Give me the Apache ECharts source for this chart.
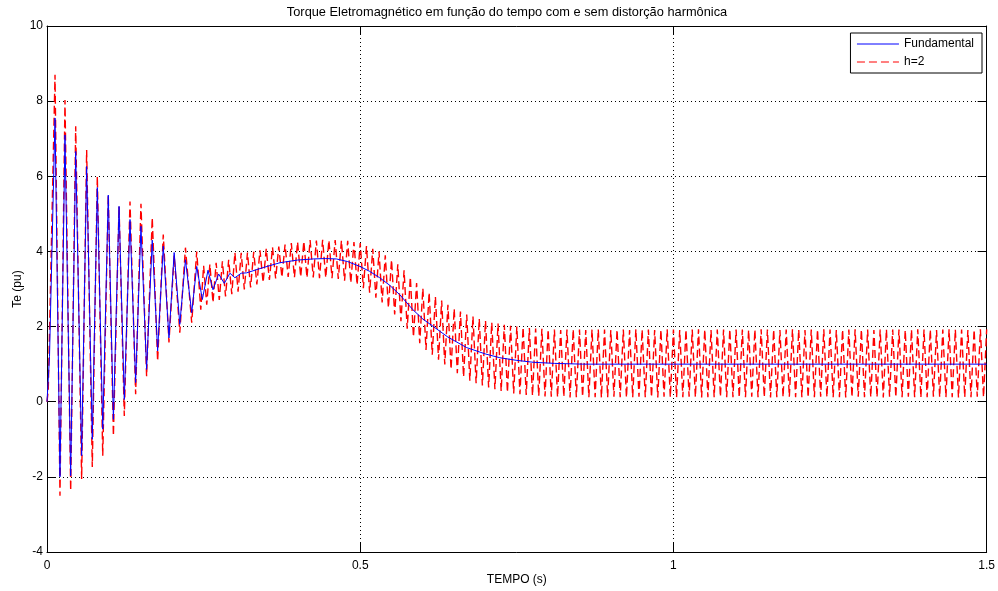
<!DOCTYPE html>
<html>
<head>
<meta charset="utf-8">
<script src="https://cdn.jsdelivr.net/npm/echarts@6/dist/echarts.min.js"></script>
<style>
html,body{margin:0;padding:0;background:#fff;}
#chart{width:998px;height:591px;}
</style>
</head>
<body>
<div id="chart"></div>
<script>
// ---- text ----
const chartTitle = 'Torque Eletromagnético em função do tempo com e sem distorção harmônica';
const xName = 'TEMPO (s)';
const yName = 'Te (pu)';
const seriesNames = ['Fundamental', 'h=2'];

// ---- axes ----
const xMin = 0, xMax = 1.5, xStep = 0.5;
const yMin = -4, yMax = 10, yStep = 2;

// ---- Fundamental: [time s, Te pu] ----
const fundamental = [
  [0,0],[0.004,1.2],[0.0128,7.55],[0.0207,-2.0],[0.0287,7.1],[0.0378,-1.97],
  [0.0458,6.66],[0.0553,-1.44],[0.0633,6.26],[0.0723,-1.0],[0.0803,5.7],[0.089,-0.73],
  [0.0978,5.5],[0.106,-0.47],[0.115,5.2],[0.1234,0.06],[0.1325,4.85],[0.1415,0.51],
  [0.150,4.67],[0.159,0.86],[0.168,4.3],[0.1766,1.35],[0.1856,4.14],[0.1947,1.7],
  [0.203,3.97],[0.212,2.06],[0.221,3.78],[0.231,2.37],[0.239,3.6],[0.248,2.72],
  [0.257,3.5],[0.265,2.98],[0.274,3.4],[0.283,3.15],[0.292,3.42],[0.300,3.3],
  [0.310,3.42],[0.3186,3.43],[0.345,3.57],[0.372,3.7],[0.400,3.77],[0.425,3.8],
  [0.445,3.81],[0.462,3.8],[0.480,3.73],[0.4995,3.6],[0.515,3.47],[0.531,3.3],
  [0.547,3.1],[0.563,2.85],[0.584,2.45],[0.600,2.2],[0.616,2.01],[0.640,1.72],
  [0.670,1.44],[0.700,1.27],[0.723,1.17],[0.750,1.1],[0.776,1.05],[0.810,1.02],
  [0.855,1.0],[0.960,1.0],[1.5,1.0]
];

// ---- h=2: start-up transient extrema [time s, Te pu] ----
const harmonicStart = [
  [0,0],[0.002,0.3],[0.004,0.3],[0.0128,8.7],[0.0207,-2.5],[0.0287,8.03],[0.0378,-2.37],
  [0.0458,7.33],[0.0553,-2.06],[0.0633,6.7],[0.0723,-1.74],[0.0803,6.0],[0.089,-1.44],
  [0.0978,5.5],[0.106,-0.91],[0.115,5.2],[0.1234,-0.38],[0.1325,5.33],[0.1415,0.2],
  [0.150,5.27],[0.159,0.68],[0.168,4.9],[0.1766,1.08],[0.1856,4.45],[0.1947,1.58],
  [0.203,3.9],[0.212,1.84],[0.221,4.1],[0.231,2.1],[0.239,4.0],[0.2455,2.45]
];

// ---- h=2: ripple extrema, one value every rippleStep seconds from rippleStart ----
const rippleStart = 0.25;
const rippleStep = 0.005;
const harmonicRipple = [
  3.62,2.58, 3.66,2.64, 3.70,2.71, 3.74,2.80, 3.78,2.86,
  3.97,2.93, 3.96,2.99, 3.97,3.04, 3.99,3.12, 4.03,3.17,
  4.07,3.24, 4.11,3.28, 4.13,3.31, 4.18,3.32, 4.22,3.31,
  4.25,3.32, 4.27,3.30, 4.30,3.31, 4.29,3.29, 4.31,3.30,
  4.30,3.29, 4.30,3.27, 4.29,3.22, 4.28,3.16, 4.25,3.11,
  4.22,3.02, 4.14,2.90, 4.07,2.77, 4.00,2.64, 3.90,2.50,
  3.78,2.32, 3.66,2.14, 3.50,1.94, 3.32,1.72, 3.16,1.56,
  3.02,1.38, 2.91,1.25, 2.80,1.12, 2.69,0.99, 2.58,0.86,
  2.48,0.76, 2.40,0.66, 2.32,0.56, 2.27,0.49, 2.21,0.43,
  2.16,0.38, 2.11,0.33, 2.08,0.28, 2.05,0.25, 2.02,0.22,
  2.00,0.20, 1.98,0.18, 1.96,0.16, 1.95,0.15, 1.94,0.14,
  1.93,0.13,
  1.92,0.12, 1.91,0.13, 1.92,0.11, 1.93,0.12, 1.92,0.13, 1.91,0.12, 1.92,0.12, 1.93,0.11, 1.92,0.12, 1.91,0.13,
  1.92,0.12, 1.92,0.11, 1.91,0.12, 1.93,0.13, 1.92,0.12, 1.92,0.12, 1.91,0.11, 1.92,0.13, 1.93,0.12, 1.92,0.12,
  1.91,0.12, 1.92,0.13, 1.92,0.12, 1.93,0.11, 1.92,0.12, 1.91,0.12, 1.92,0.13, 1.92,0.12, 1.93,0.12, 1.92,0.11,
  1.92,0.12, 1.91,0.13, 1.92,0.12, 1.93,0.12, 1.92,0.11, 1.92,0.12, 1.91,0.12, 1.92,0.13, 1.93,0.12, 1.92,0.12,
  1.91,0.11, 1.92,0.12, 1.92,0.13, 1.93,0.12, 1.92,0.12, 1.91,0.12, 1.92,0.11, 1.92,0.12, 1.93,0.13, 1.92,0.12,
  1.92,0.12, 1.91,0.12, 1.92,0.11, 1.93,0.13, 1.92,0.12, 1.92,0.12, 1.91,0.13, 1.92,0.12, 1.93,0.11, 1.92,0.12,
  1.92,0.13, 1.91,0.12, 1.92,0.12, 1.93,0.12, 1.92,0.11, 1.92,0.12, 1.91,0.12, 1.92,0.13, 1.93,0.12,
  1.92
];

const harmonic = harmonicStart.concat(
  harmonicRipple.map((v, i) => [rippleStart + i * rippleStep, v])
);

const FONT = 'Liberation Sans, Arial, sans-serif';
const TXT = '#000';

const chart = echarts.init(document.getElementById('chart'), null, {renderer: 'canvas'});

const tickStyle = {show: true, inside: true, length: 9, lineStyle: {color: '#000', width: 1}};
const lineAxis = {show: true, onZero: false, lineStyle: {color: '#000', width: 1}};

chart.setOption({
  animation: false,
  backgroundColor: '#fff',
  title: {
    text: chartTitle,
    left: 507,
    top: 6,
    padding: 0,
    textAlign: 'center',
    textStyle: {fontFamily: FONT, fontSize: 12.8, fontWeight: 'normal', color: TXT}
  },
  legend: {
    orient: 'vertical',
    right: 16,
    top: 33,
    padding: [5, 8, 5, 6],
    itemGap: 6,
    itemWidth: 42,
    itemHeight: 12,
    borderColor: '#000',
    borderWidth: 1,
    borderRadius: 0,
    backgroundColor: '#fff',
    data: seriesNames,
    itemStyle: {opacity: 0},
    lineStyle: {width: 1},
    textStyle: {fontFamily: FONT, fontSize: 12, color: TXT}
  },
  grid: {left: 47, right: 11, top: 26, bottom: 38, containLabel: false},
  xAxis: [{
    type: 'value', min: xMin, max: xMax, interval: xStep,
    name: xName, nameLocation: 'middle', nameGap: 22, nameMoveOverlap: false,
    nameTextStyle: {fontFamily: FONT, fontSize: 12, color: TXT},
    axisLine: lineAxis, axisTick: tickStyle,
    axisLabel: {fontFamily: FONT, fontSize: 12, color: TXT, margin: 8, showMinLabel: true, showMaxLabel: true},
    splitLine: {show: true, lineStyle: {color: '#000', width: 1, type: [1, 3]}}
  }, {
    type: 'value', min: xMin, max: xMax, interval: xStep, position: 'top',
    axisLine: lineAxis, axisTick: tickStyle, axisLabel: {show: false}, splitLine: {show: false}
  }],
  yAxis: [{
    type: 'value', min: yMin, max: yMax, interval: yStep,
    name: yName, nameLocation: 'middle', nameGap: 23, nameRotate: 90, nameMoveOverlap: false,
    nameTextStyle: {fontFamily: FONT, fontSize: 12, color: TXT},
    axisLine: lineAxis, axisTick: tickStyle,
    axisLabel: {fontFamily: FONT, fontSize: 12, color: TXT, margin: 4, showMinLabel: true, showMaxLabel: true},
    splitLine: {show: true, lineStyle: {color: '#000', width: 1, type: [1, 3]}}
  }, {
    type: 'value', min: yMin, max: yMax, interval: yStep, position: 'right',
    axisLine: lineAxis, axisTick: tickStyle, axisLabel: {show: false}, splitLine: {show: false}
  }],
  series: [{
    name: seriesNames[0],
    type: 'line',
    data: fundamental,
    symbol: 'none',
    z: 3,
    lineStyle: {color: '#0000ff', width: 1},
    itemStyle: {color: '#0000ff'}
  }, {
    name: seriesNames[1],
    type: 'line',
    data: harmonic,
    symbol: 'none',
    z: 2,
    lineStyle: {color: '#ff0000', width: 1.4, type: [8, 4]},
    itemStyle: {color: '#ff0000'}
  }]
});
</script>
</body>
</html>
